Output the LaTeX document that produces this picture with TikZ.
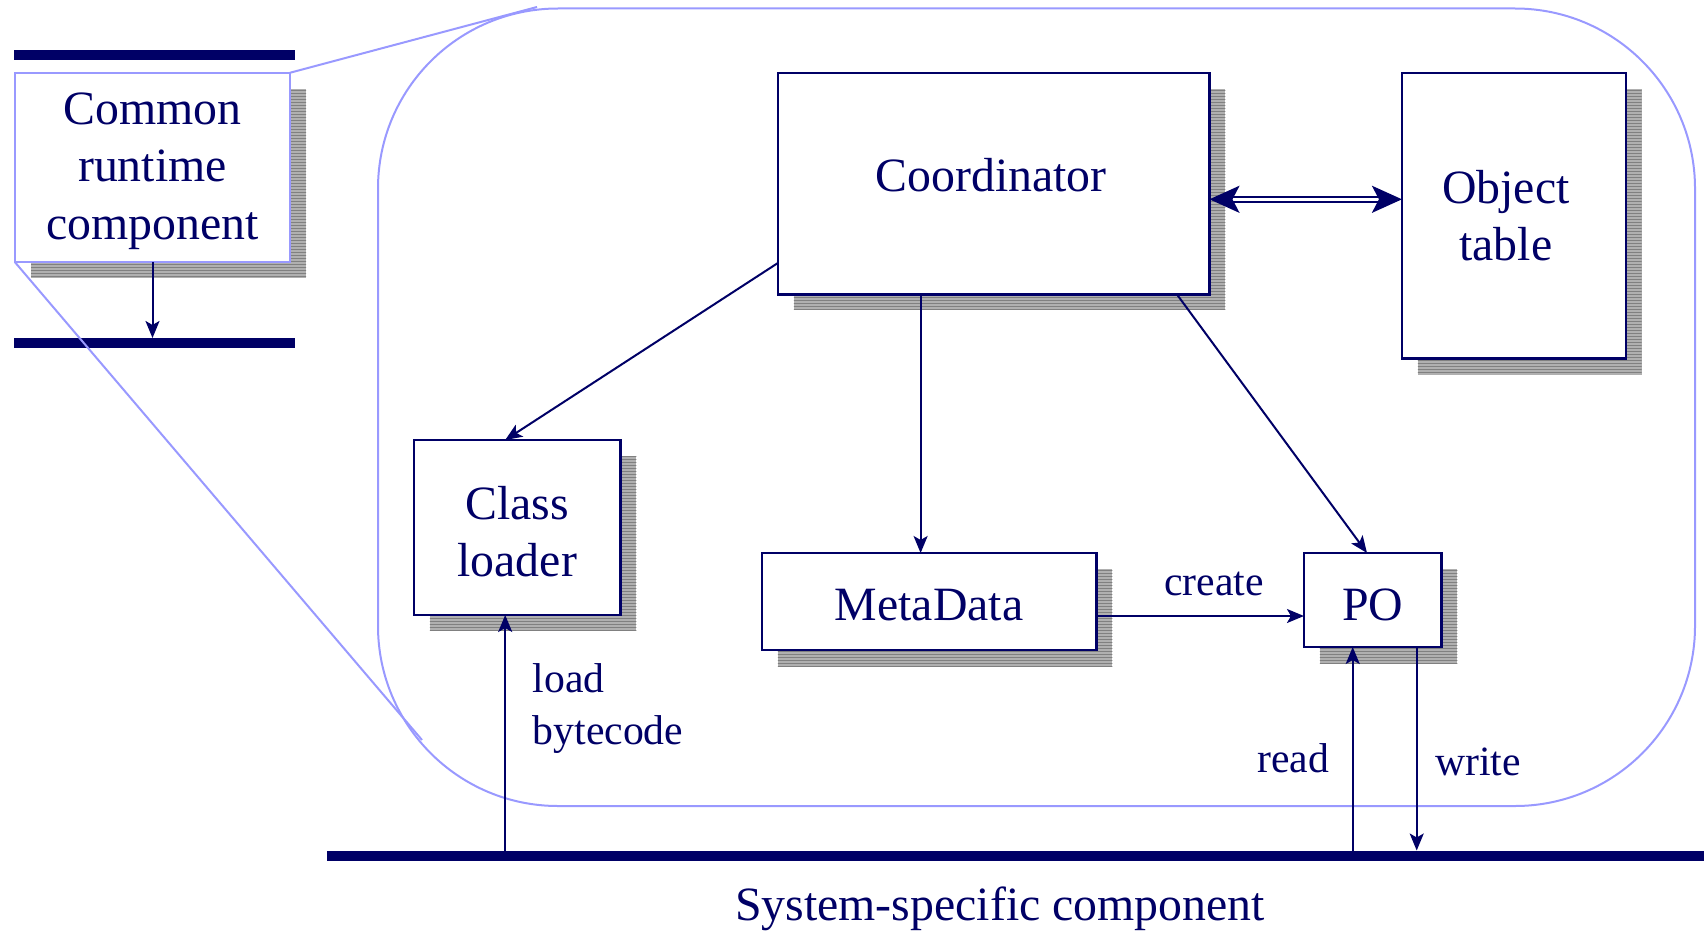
\documentclass[tikz,border=0pt]{standalone}
\usepackage{fontspec}
\setmainfont{Liberation Serif}
\usetikzlibrary{arrows.meta,patterns,backgrounds}

\definecolor{navy}{RGB}{0,0,102}
\definecolor{lblue}{RGB}{153,153,255}
\definecolor{shadeA}{RGB}{176,176,176}
\definecolor{shadeB}{RGB}{128,128,128}

\newcommand{\bigfont}{\fontsize{47.8}{57.6}\selectfont}
\newcommand{\smallfont}{\fontsize{41.7}{52}\selectfont}

\tikzset{
  box/.style={draw=navy, line width=2.3pt, fill=white, inner sep=0pt, outer sep=0pt},
  runbox/.style={box, draw=lblue, line width=2pt},
  txt/.style={text=navy, inner sep=0pt, align=center, font=\bigfont},
  lbl/.style={text=navy, inner sep=0pt, font=\smallfont},
  arr/.style={draw=navy, line width=2pt, -{Stealth[length=17pt,width=14pt,inset=4pt]}},
  dblarr/.style={draw=navy, line width=2.4pt, double=white, double distance=2.6pt,
                 {Stealth[length=30pt,width=27pt,inset=7pt]}-{Stealth[length=30pt,width=27pt,inset=7pt]}},
  bus/.style={draw=navy, line width=10pt},
  zoomline/.style={draw=lblue, line width=2pt},
}

% hatched drop shadow behind a node
\newcommand{\hshadow}[1]{%
  \fill[shadeA] ([shift={(16,16)}]#1.north west) rectangle ([shift={(16,16)}]#1.south east);
  \fill[pattern=horizontal lines, pattern color=shadeB]
    ([shift={(16,16)}]#1.north west) rectangle ([shift={(16,16)}]#1.south east);
}

\begin{document}
\begin{tikzpicture}[x=1pt, y=-1pt]
\useasboundingbox (0,0) rectangle (1704,931);

% component outline
\draw[zoomline, rounded corners=180pt] (378,8.5) rectangle (1695,806);

% common runtime component, with its two bars
\node[runbox, minimum width=275pt, minimum height=189.5pt] (common) at (152.5,167.5) {};
\node[txt] (commontxt) at ([yshift=-3.5pt]common.center) {Common\\runtime\\component};
\coordinate (topL) at (14,55);   \coordinate (topR) at (295,55);
\coordinate (midL) at (14,343);  \coordinate (midR) at (295,343);
\draw[bus] (topL) -- (topR);
\draw[bus] (midL) -- (midR);
\draw[arr] (common.south) -- (common.south |- 0,338);

% projection lines to the enlarged outline
\coordinate (zoomTop) at (537,7);
\coordinate (zoomBot) at (422,740);
\draw[zoomline] (common.north east) -- (zoomTop);
\draw[zoomline] (common.south west) -- (zoomBot);

% inner boxes
\node[box, minimum width=431.5pt, minimum height=221.7pt] (coord) at (993.7,183.6) {};
\node[txt] (coordtxt) at (991,175) {Coordinator};
\node[box, minimum width=223.7pt, minimum height=285.8pt] (otab) at (1513.8,215.7) {};
\node[txt] (otabtxt) at ([xshift=-8pt]otab.center) {Object\\table};
\node[box, minimum width=206.5pt, minimum height=175pt] (cl) at (517.2,527.5) {};
\node[txt] (cltxt) at ([yshift=-4pt]cl.center) {Class\\loader};
\node[box, minimum width=334.7pt, minimum height=97pt] (md) at (929.1,601.5) {};
\node[txt] (mdtxt) at ([yshift=-3.5pt]md.center) {MetaData};
\node[box, minimum width=137.5pt, minimum height=94pt] (po) at (1372.7,600) {};
\node[txt] (potxt) at ([yshift=-4.5pt]po.center) {PO};

\begin{scope}[on background layer]
  \hshadow{common}
  \hshadow{coord}
  \hshadow{otab}
  \hshadow{cl}
  \hshadow{md}
  \hshadow{po}
\end{scope}

% system-specific bus
\coordinate (busL) at (327,855.5);
\coordinate (busR) at (1704,855.5);
\draw[bus] (busL) -- (busR);
\node[txt] (sys) at (1000,908.5) {System-specific component};

% connectors
\coordinate (coordout) at ([yshift=-15.7pt]coord.east);
\draw[dblarr] (coordout) -- (otab.west |- coordout);
\draw[arr] ([yshift=31.5pt]coord.south west) -- ([xshift=-12pt]cl.north);
\coordinate (mdin) at ([xshift=-8.5pt]md.north);
\draw[arr] (coord.south -| mdin) -- (mdin);
\draw[arr] ([xshift=-32.5pt]coord.south east) -- ([xshift=-5.7pt]po.north);
\coordinate (mdout) at ([yshift=-14.5pt]md.east);
\draw[arr] (mdout) -- (po.west |- mdout);
\node[lbl] (create) at (1214,583.5) {create};

\coordinate (clin) at ([xshift=-12pt]cl.south);
\draw[arr] (busL -| clin) -- (clin);
\node[lbl, align=left, anchor=west] (load) at (532.5,708.5) {load\\bytecode};

\coordinate (poin) at ([xshift=-20pt]po.south);
\draw[arr] (busL -| poin) -- (poin);
\node[lbl] (read) at (1293,758.5) {read};
\coordinate (poout) at ([xshift=44pt]po.south);
\draw[arr] (poout) -- (poout |- 0,850.5);
\node[lbl] (write) at (1478,762) {write};
\end{tikzpicture}
\end{document}
